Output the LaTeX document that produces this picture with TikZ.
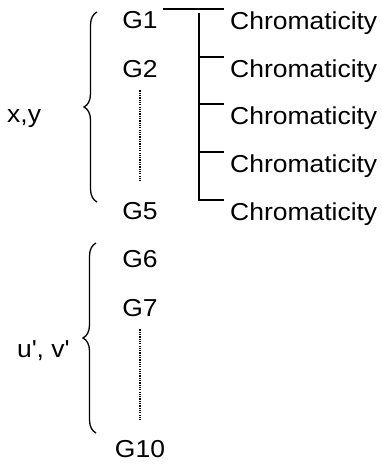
\documentclass[tikz,border=0pt]{standalone}
\usepackage{fontspec}
\setmainfont{Liberation Sans}[FakeStretch=1.08]
\usetikzlibrary{decorations.pathreplacing}

\tikzset{
	glabel/.style={anchor=base, inner xsep=5pt, inner ysep=2pt, font=\fontsize{24.5}{28}\selectfont},
	chroma/.style={anchor=base west, inner xsep=6pt, inner ysep=2pt, font=\fontsize{24.5}{28}\selectfont},
	side/.style={anchor=base west, inner sep=0pt, font=\fontsize{24.5}{28}\selectfont},
	dotline/.style={line width=2pt, dash pattern=on 1.2pt off 1.1pt, shorten <=11pt, shorten >=18pt},
	curly/.style={line width=1.3pt, decorate, decoration={brace, amplitude=13pt}},
	tree/.style={line width=1.4pt},
}

\begin{document}
\begin{tikzpicture}[x=1pt, y=-1pt]
		\useasboundingbox (0,0) rectangle (382,464);

		% upper group
		\node[glabel] (G1) at (140,28) {G1};
		\node[glabel] (G2) at (140,77) {G2};
		\node[glabel] (G5) at (140,219) {G5};
		\draw[dotline] (G2.south) -- (G5.north);

		\foreach \i/\y in {1/29, 2/77, 3/124, 4/172, 5/220}
			\node[chroma] (C\i) at (224,\y) {Chromaticity};

		\coordinate (T) at (199,13);
		\draw[tree] (G1.east |- C1.north west) -- (C1.north west);
		\foreach \i in {2,3,4}
			\draw[tree] (T |- C\i.north west) -- (C\i.north west);
		\draw[tree] (T) |- (C5.north west);

		\draw[curly] (97,202) -- (97,12);
		\node[side] (xy) at (7,122) {x,y};

		% lower group
		\node[glabel] (G6) at (140,267) {G6};
		\node[glabel] (G7) at (140,316) {G7};
		\node[glabel] (G10) at (140,457) {G10};
		\draw[dotline] (G7.south) -- (G10.north);

		\draw[curly] (96,433) -- (96,243);
		\node[side] (uv) at (17,357) {u\textquotesingle, v\textquotesingle};
	\end{tikzpicture}
\end{document}
